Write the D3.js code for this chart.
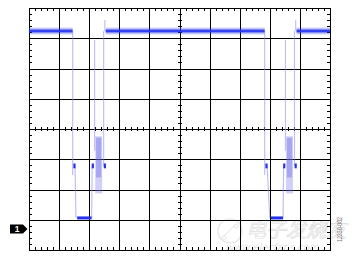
<!DOCTYPE html>
<html>
<head>
<meta charset="utf-8">
<script src="https://cdn.jsdelivr.net/npm/d3@7"></script>
<style>
  html, body { margin: 0; padding: 0; background: #fff; }
  svg { display: block; }
</style>
</head>
<body>
<div id="scope"></div>
<script>
// screen is 10 x 8 divisions, values below are in divisions
const highLevel = 3.24
const lowLevel = -2.94
const stepLevel = -1.22
const ringTop = -0.24
const ringBottom = -2.13
const spikeTop = 3.6
const groundLevel = -3.3

// the two pulses (time in divisions)
const fallTimes = [1.45, 7.83]
const lowStarts = [1.6, 8.04]
const lowEnds = [2.08, 8.44]
const ringStarts = [2.2, 8.54]
const ringEnds = [2.43, 8.77]
const riseTimes = [2.5, 8.84]

const figureId = '12330-002'

const width = 352
const height = 256
const svg = d3.select('#scope').append('svg')
  .attr('width', width)
  .attr('height', height)

const plotLeft = 29, plotRight = 330, plotTop = 8, plotBottom = 250

// rounded scales for the graticule, plain ones for the trace
const gx = d3.scaleLinear().domain([0, 10]).range([plotLeft, plotRight]).interpolate(d3.interpolateRound)
const gy = d3.scaleLinear().domain([-4, 4]).range([plotBottom, plotTop]).interpolate(d3.interpolateRound)
const x = d3.scaleLinear().domain([0, 10]).range([plotLeft, plotRight])
const y = d3.scaleLinear().domain([-4, 4]).range([plotBottom, plotTop])

// watermark (faint, under everything)
const wm = svg.append('g').attr('class', 'watermark').attr('opacity', 0.6)
wm.append('circle')
  .attr('cx', 230).attr('cy', 231).attr('r', 12)
  .attr('fill', 'none').attr('stroke', '#d4d4d4').attr('stroke-width', 1.2)
wm.append('path')
  .attr('d', 'M222,238 L236,224 M224,236 a2,2 0 1,0 0.1,0 M236,224 a2,2 0 1,0 0.1,0')
  .attr('fill', 'none').attr('stroke', '#d4d4d4').attr('stroke-width', 1)
wm.append('text')
  .attr('x', 246).attr('y', 237)
  .attr('font-family', 'Noto Sans CJK SC')
  .attr('font-size', 20)
  .attr('font-style', 'italic')
  .attr('fill', 'none').attr('stroke', '#c8c8c8').attr('stroke-width', 0.7)
  .text('电子发烧友')
wm.append('text')
  .attr('x', 226).attr('y', 251)
  .attr('font-family', 'DejaVu Sans')
  .attr('font-size', 10)
  .attr('font-style', 'italic')
  .attr('fill', '#d4d4d4')
  .text('www.elecfans.com')

// graticule
const grid = svg.append('g').attr('class', 'grid')

grid.append('g')
  .attr('transform', 'translate(0,' + plotBottom + ')')
  .call(d3.axisBottom(gx).tickValues(d3.range(1, 10)).tickSize(-(plotBottom - plotTop)).tickFormat(''))
grid.append('g')
  .attr('transform', 'translate(' + plotLeft + ',0)')
  .call(d3.axisLeft(gy).tickValues(d3.range(-3, 4)).tickSize(-(plotRight - plotLeft)).tickFormat(''))

const minorX = d3.range(0, 50).map(function (i) { return i / 5 }).filter(function (d) { return d % 1 !== 0 })
const minorY = d3.range(-20, 20).map(function (i) { return i / 5 }).filter(function (d) { return d % 1 !== 0 })

// border ticks, pointing inwards
grid.append('g').attr('transform', 'translate(0,' + plotTop + ')')
  .call(d3.axisBottom(gx).tickValues(minorX).tickSize(3).tickFormat(''))
grid.append('g').attr('transform', 'translate(0,' + plotBottom + ')')
  .call(d3.axisTop(gx).tickValues(minorX).tickSize(3).tickFormat(''))
grid.append('g').attr('transform', 'translate(' + plotLeft + ',0)')
  .call(d3.axisRight(gy).tickValues(minorY).tickSize(3).tickFormat(''))
grid.append('g').attr('transform', 'translate(' + plotRight + ',0)')
  .call(d3.axisLeft(gy).tickValues(minorY).tickSize(3).tickFormat(''))

// centre axes, ticks on both sides
const cx = gx(5), cy = gy(0)
grid.append('g').attr('transform', 'translate(0,' + cy + ')')
  .call(d3.axisBottom(gx).tickValues(minorX).tickSize(2).tickFormat(''))
grid.append('g').attr('transform', 'translate(0,' + cy + ')')
  .call(d3.axisTop(gx).tickValues(minorX).tickSize(2).tickFormat(''))
grid.append('g').attr('transform', 'translate(' + cx + ',0)')
  .call(d3.axisRight(gy).tickValues(minorY).tickSize(2).tickFormat(''))
grid.append('g').attr('transform', 'translate(' + cx + ',0)')
  .call(d3.axisLeft(gy).tickValues(minorY).tickSize(2).tickFormat(''))

grid.selectAll('.domain').remove()
grid.selectAll('line').attr('stroke', '#000').attr('stroke-width', 1)

grid.append('rect')
  .attr('x', gx(0) + 0.5).attr('y', gy(4) + 0.5)
  .attr('width', gx(10) - gx(0)).attr('height', gy(-4) - gy(4))
  .attr('fill', 'none').attr('stroke', '#000').attr('stroke-width', 1)

// trace
const trace = svg.append('g').attr('class', 'trace')
const blue = '#2432ec'
const faint = '#8c8cf2'
const line = d3.line().x(function (d) { return x(d[0]) }).y(function (d) { return y(d[1]) })

// high level segments between the pulses
const highSegs = []
let start = 0
for (let i = 0; i < fallTimes.length; i++) {
  highSegs.push([start, fallTimes[i]])
  start = riseTimes[i] + 0.05
}
highSegs.push([start, 10])

const bands = [
  { w: 8, o: 0.1 },
  { w: 6, o: 0.2 },
  { w: 4, o: 0.4 },
  { w: 2, o: 0.85 },
]
bands.forEach(function (b) {
  trace.selectAll(null)
    .data(highSegs)
    .enter().append('path')
      .attr('d', function (d) { return line([[d[0], highLevel], [d[1], highLevel]]) })
      .attr('fill', 'none')
      .attr('stroke', blue)
      .attr('stroke-opacity', b.o)
      .attr('stroke-width', b.w)
})

fallTimes.forEach(function (f, i) {
  const ls = lowStarts[i], le = lowEnds[i]
  const rs = ringStarts[i], re = ringEnds[i], r = riseTimes[i]

  // edges, drawn faint
  const edges = [
    [[f, highLevel], [f, stepLevel - 0.3]],
    [[f + 0.08, stepLevel], [ls - 0.04, lowLevel]],
    [[le, lowLevel], [le + 0.02, stepLevel]],
    [[rs - 0.02, stepLevel + 0.5], [rs - 0.02, highLevel - 0.3]],
    [[r - 0.02, stepLevel], [r - 0.02, highLevel]],
    [[r + 0.02, highLevel], [r + 0.02, spikeTop]],
  ]
  trace.selectAll(null)
    .data(edges)
    .enter().append('path')
      .attr('d', line)
      .attr('fill', 'none')
      .attr('stroke', faint)
      .attr('stroke-opacity', 0.55)
      .attr('stroke-width', 1.2)

  // ringing band
  trace.append('rect')
    .attr('x', x(rs)).attr('y', y(ringTop))
    .attr('width', x(re) - x(rs)).attr('height', y(ringBottom) - y(ringTop))
    .attr('fill', '#7878ee').attr('fill-opacity', 0.35)
  trace.append('rect')
    .attr('x', x(rs + 0.03)).attr('y', y(ringTop - 0.05))
    .attr('width', x(re - 0.03) - x(rs + 0.03)).attr('height', y(-1.6) - y(ringTop - 0.05))
    .attr('fill', '#5a5ae8').attr('fill-opacity', 0.35)

  // low level
  trace.append('path')
    .attr('d', line([[ls, lowLevel], [le, lowLevel]]))
    .attr('stroke', blue).attr('stroke-width', 3).attr('fill', 'none')

  // small steps at the intermediate level
  const blobs = [f + 0.06, le + 0.04, re + 0.09]
  trace.selectAll(null)
    .data(blobs)
    .enter().append('path')
      .attr('d', function (t) { return line([[t, stepLevel + 0.08], [t, stepLevel - 0.08]]) })
      .attr('stroke', blue).attr('stroke-width', 2.2).attr('fill', 'none')
})

// ground marker for channel 1
const gm = svg.append('g').attr('transform', 'translate(0,' + Math.round(y(groundLevel)) + ')')
gm.append('path')
  .attr('d', 'M10,-4.5 L23,-4.5 L27.5,0 L23,4.5 L10,4.5 Z')
  .attr('fill', '#000')
gm.append('text')
  .attr('x', 17).attr('y', 3)
  .attr('text-anchor', 'middle')
  .attr('font-family', 'Liberation Sans')
  .attr('font-weight', 'bold')
  .attr('font-size', 8.5)
  .attr('fill', '#fff')
  .text('1')

// figure id
svg.append('text')
  .attr('transform', 'translate(342,242) rotate(-90)')
  .attr('font-family', 'Liberation Sans')
  .attr('font-size', 6.5)
  .attr('fill', '#777')
  .attr('textLength', 25)
  .attr('lengthAdjust', 'spacingAndGlyphs')
  .text(figureId)
</script>
</body>
</html>
